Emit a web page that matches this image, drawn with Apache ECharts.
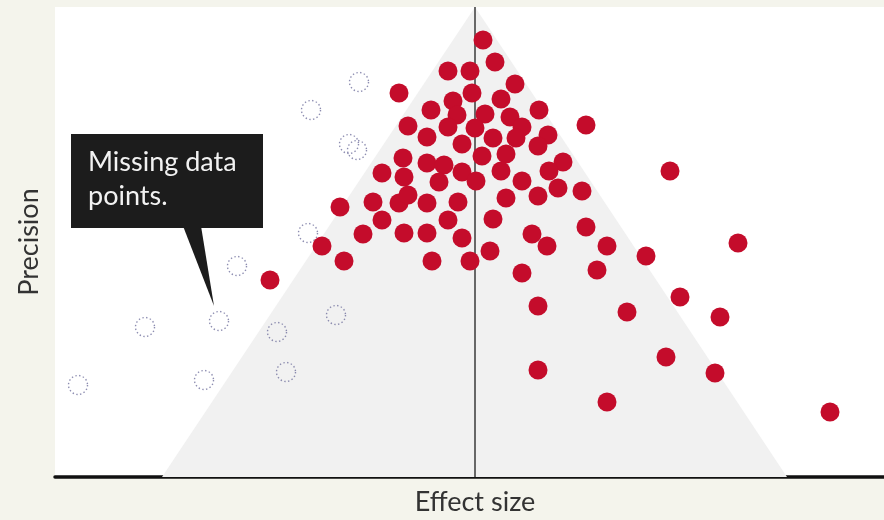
<!DOCTYPE html>
<html>
<head>
<meta charset="utf-8">
<script src="https://cdn.jsdelivr.net/npm/echarts@6/dist/echarts.min.js"></script>
<style>
  html, body { margin: 0; padding: 0; background: #f4f4ec; }
  #chart { width: 884px; height: 520px; }
</style>
</head>
<body>
<div id="chart"></div>
<script>
// Published studies: [effect size, precision]
const publishedStudies = [
  [0.08, 4.37], [0.20, 4.15], [-0.27, 4.06], [-0.05, 4.06], [0.40, 3.93],
  [-0.76, 3.84], [-0.03, 3.84], [-0.22, 3.76], [0.26, 3.78], [-0.44, 3.67],
  [-0.18, 3.62], [0.10, 3.63], [0.35, 3.60], [0.64, 3.67], [-0.27, 3.50],
  [0.00, 3.49], [0.47, 3.50], [-0.67, 3.51], [1.11, 3.52], [-0.48, 3.40],
  [-0.13, 3.33], [0.18, 3.39], [0.41, 3.39], [0.73, 3.42], [0.63, 3.31],
  [0.07, 3.21], [0.31, 3.23], [-0.72, 3.19], [-0.48, 3.14], [-0.31, 3.12],
  [0.88, 3.15], [0.26, 3.06], [-0.13, 3.05], [0.01, 2.96], [-0.93, 3.04],
  [-0.71, 3.00], [-0.36, 2.95], [0.47, 2.96], [0.74, 3.06], [0.83, 2.89],
  [1.07, 2.86], [-1.35, 2.70], [-1.02, 2.75], [-0.76, 2.74], [-0.67, 2.82],
  [-0.48, 2.74], [-0.17, 2.75], [0.31, 2.79], [0.63, 2.81], [-0.93, 2.57],
  [-0.27, 2.57], [0.18, 2.58], [-1.12, 2.43], [-0.71, 2.44], [-0.48, 2.44],
  [-0.13, 2.39], [0.57, 2.43], [0.72, 2.31], [1.11, 2.50], [-1.53, 2.31],
  [-1.31, 2.16], [-0.43, 2.16], [-0.05, 2.16], [0.15, 2.26], [1.32, 2.31],
  [0.47, 2.04], [0.63, 1.71], [0.63, 1.07], [1.22, 2.07], [1.71, 2.21],
  [1.95, 3.06], [2.63, 2.34], [2.05, 1.80], [1.52, 1.65], [2.45, 1.60],
  [1.91, 1.20], [2.40, 1.04], [1.32, 0.75], [3.55, 0.65], [-2.05, 1.97]
];
// Missing (unpublished) studies
const missingStudies = [
  [-1.16, 3.95], [-1.64, 3.67], [-1.26, 3.33], [-1.18, 3.27], [-1.67, 2.44],
  [-2.38, 2.11], [-2.56, 1.56], [-3.30, 1.50], [-1.98, 1.45], [-1.39, 1.62],
  [-1.89, 1.05], [-2.71, 0.97], [-3.97, 0.92]
];
// Funnel outline (expected region) and central effect
const funnelOutline = [[-3.13, 0], [0, 4.7], [3.12, 0]];
const centreLine = [[0, 0], [0, 4.7]];
const xRange = [-4.2, 4.09];
const yRange = [0, 4.7];
const annotationText = 'Missing data\npoints.';

const chart = echarts.init(document.getElementById('chart'));
const font = 'Lato, "Open Sans", sans-serif';
chart.setOption({
  backgroundColor: '#f4f4ec',
  animation: false,
  grid: {
    left: 55, right: 0, top: 7, bottom: 43, show: true, backgroundColor: '#ffffff', borderWidth: 0,
    outerBoundsMode: 'none', containLabel: false
  },
  xAxis: {
    type: 'value', min: xRange[0], max: xRange[1],
    axisLine: { show: true, onZero: false, lineStyle: { color: '#111', width: 3.5 } },
    axisTick: { show: false }, axisLabel: { show: false }, splitLine: { show: false },
    name: 'Effect size', nameLocation: 'middle', nameGap: 12,
    nameTextStyle: { fontSize: 27, color: '#333', fontFamily: font, padding: [0, 0, 0, 11] }
  },
  yAxis: {
    type: 'value', min: yRange[0], max: yRange[1],
    axisLine: { show: false }, axisTick: { show: false }, axisLabel: { show: false }, splitLine: { show: false },
    name: 'Precision', nameLocation: 'middle', nameGap: 12,
    nameTextStyle: { fontSize: 27, color: '#333', fontFamily: font }
  },
  series: [
    {
      type: 'line', data: funnelOutline, symbol: 'none', silent: true, z: 1,
      lineStyle: { width: 0 }, areaStyle: { color: '#f1f1f1', opacity: 1 }
    },
    {
      type: 'line', data: centreLine, symbol: 'none', silent: true, z: 2,
      lineStyle: { color: '#3a3a3a', width: 1.5 }
    },
    {
      type: 'scatter', data: missingStudies, symbolSize: 19, z: 3,
      itemStyle: { color: 'rgba(0,0,0,0)', borderColor: '#6f6f9c', borderWidth: 1.4, borderType: [1.4, 2.4] }
    },
    {
      type: 'scatter', data: publishedStudies, symbolSize: 19, z: 4,
      itemStyle: { color: '#c40c2b', opacity: 1 }
    }
  ],
  graphic: [
    { type: 'polygon', z: 100, shape: { points: [[183, 226], [201, 226], [214, 306]] }, style: { fill: '#1c1c1c' } },
    { type: 'rect', z: 100, shape: { x: 71, y: 134, width: 192, height: 94 }, style: { fill: '#1c1c1c' } },
    { type: 'text', z: 101, x: 88, y: 145, style: { text: annotationText, fill: '#f2f2f2', fontSize: 27, fontFamily: font, lineHeight: 34 } }
  ]
});
</script>
</body>
</html>
